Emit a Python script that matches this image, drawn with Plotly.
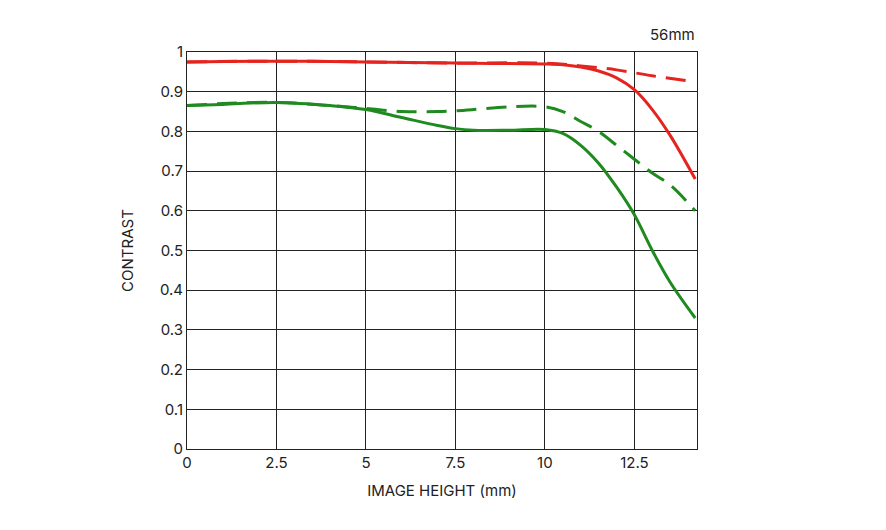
import plotly.graph_objects as go

x_red = [0, 2.5, 5, 7.5, 10, 10.5, 11, 11.5, 12, 12.5, 13, 13.5, 14.2]
red_solid = [0.975, 0.977, 0.975, 0.972, 0.97, 0.968, 0.962, 0.952, 0.935, 0.905, 0.855, 0.79, 0.68]
x_red_d = [0, 2.5, 5, 7.5, 10, 11, 12, 13, 14.2]
red_dash = [0.975, 0.977, 0.975, 0.972, 0.972, 0.965, 0.955, 0.94, 0.925]
x_g = [0, 1, 2.5, 4, 5, 6, 7, 7.5, 8, 9, 10, 10.5, 11, 11.5, 12, 12.5, 13, 13.5, 14.2]
green_solid = [0.865, 0.868, 0.873, 0.865, 0.855, 0.835, 0.815, 0.807, 0.803, 0.803, 0.805, 0.795, 0.765, 0.72, 0.66, 0.59, 0.5, 0.42, 0.33]
green_dash = [0.865, 0.87, 0.873, 0.865, 0.858, 0.85, 0.85, 0.852, 0.855, 0.862, 0.862, 0.85, 0.825, 0.8, 0.765, 0.73, 0.695, 0.665, 0.60]

RED = "#e52420"; GREEN = "#1f8a1f"
fig = go.Figure()
fig.add_trace(go.Scatter(x=x_red_d, y=red_dash, mode="lines", line=dict(color=RED, width=3, dash="20px,10px", shape="spline")))
fig.add_trace(go.Scatter(x=x_red, y=red_solid, mode="lines", line=dict(color=RED, width=3, shape="spline")))
fig.add_trace(go.Scatter(x=x_g, y=green_dash, mode="lines", line=dict(color=GREEN, width=3, dash="20px,10px", shape="spline")))
fig.add_trace(go.Scatter(x=x_g, y=green_solid, mode="lines", line=dict(color=GREEN, width=3, shape="spline")))

font = dict(family="Inter, Roboto, sans-serif", size=15, color="#222")
tfont = dict(family="Inter, Roboto, sans-serif", size=15, color="#222")
fig.update_layout(width=886, height=530, showlegend=False, plot_bgcolor="white", paper_bgcolor="white",
    margin=dict(l=179, r=197, t=44, b=89), font=font,
    xaxis=dict(range=[0, 14.25], tickvals=[0, 2.5, 5, 7.5, 10, 12.5], ticktext=["0", "2.5", "5", "7.5", "10", "12.5"],
               showgrid=True, gridcolor="#222", gridwidth=1, showline=True, linecolor="#222", mirror=True, zeroline=False,
               title=dict(text="IMAGE HEIGHT (mm)", standoff=14, font=tfont), ticks=""),
    yaxis=dict(range=[0, 1], tickvals=[i/10 for i in range(11)], ticktext=["0","0.1","0.2","0.3","0.4","0.5","0.6","0.7","0.8","0.9","1"],
               showgrid=True, gridcolor="#222", gridwidth=1, showline=True, linecolor="#222", mirror=True, zeroline=False,
               title=dict(text="CONTRAST", standoff=22, font=tfont), ticks=""),
    annotations=[dict(text="56mm", x=1, y=1, xref="paper", yref="paper", xanchor="right", yanchor="bottom", yshift=6, showarrow=False, font=font)])
fig.write_html("out.html")
